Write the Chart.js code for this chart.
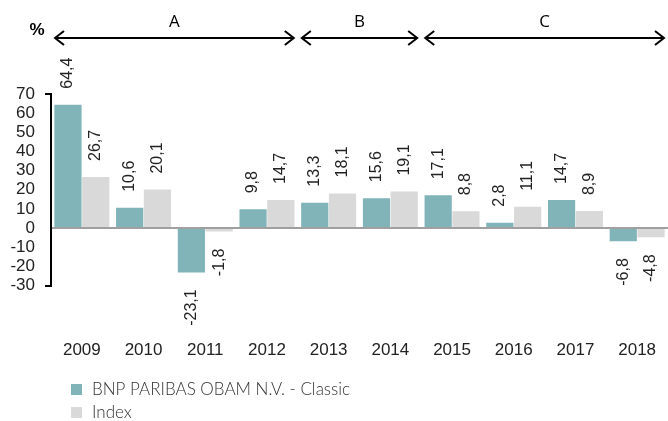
<!DOCTYPE html>
<html>
<head>
<meta charset="utf-8">
<script src="https://cdn.jsdelivr.net/npm/chart.js@4.4.0/dist/chart.umd.min.js"></script>
<style>
  html, body { margin: 0; padding: 0; background: #fff; overflow: hidden; }
  canvas { display: block; }
</style>
</head>
<body>
<canvas id="myGrafico" width="668" height="421"></canvas>
<script>
var anos = ["2009", "2010", "2011", "2012", "2013", "2014", "2015", "2016", "2017", "2018"];
var fundo = [64.4, 10.6, -23.1, 9.8, 13.3, 15.6, 17.1, 2.8, 14.7, -6.8];
var indice = [26.7, 20.1, -1.8, 14.7, 18.1, 19.1, 8.8, 11.1, 8.9, -4.8];
var periodos = ["A", "B", "C"];
var periodoInicio = [0, 4, 6];
var periodoFim = [3, 5, 9];

// rotated value labels, arrows on top, legend at bottom
var extras = {
    id: 'extras',
    afterDatasetsDraw: function(chart) {
        var ctx = chart.ctx;
        ctx.save();
        ctx.fillStyle = "#222";
        ctx.font = "16px 'Liberation Sans', Arial, sans-serif";
        ctx.textBaseline = "middle";
        chart.data.datasets.forEach(function(ds, di) {
            var meta = chart.getDatasetMeta(di);
            meta.data.forEach(function(bar, i) {
                var v = ds.data[i];
                var txt = v.toFixed(1).replace(".", ",");
                ctx.save();
                if (v >= 0) {
                    ctx.translate(bar.x, bar.y - 16);
                    ctx.rotate(-Math.PI / 2);
                    ctx.textAlign = "left";
                } else {
                    ctx.translate(bar.x, bar.y + 17);
                    ctx.rotate(-Math.PI / 2);
                    ctx.textAlign = "right";
                }
                ctx.fillText(txt, 0, 0);
                ctx.restore();
            });
        });
        ctx.restore();
    },
    afterDraw: function(chart) {
        var ctx = chart.ctx;
        var xs = chart.scales.x;
        var half = (xs.getPixelForValue(1) - xs.getPixelForValue(0)) / 2;
        ctx.save();
        // %
        ctx.fillStyle = "#000";
        ctx.font = "bold 17px 'Liberation Sans', Arial, sans-serif";
        ctx.textAlign = "center";
        ctx.textBaseline = "middle";
        ctx.fillText("%", 37, 30);
        var y = 38;
        ctx.strokeStyle = "#000";
        ctx.lineWidth = 2;
        for (var p = 0; p < periodos.length; p++) {
            var x1 = xs.getPixelForValue(periodoInicio[p]) - half + 4;
            var x2 = xs.getPixelForValue(periodoFim[p]) + half - 4;
            if (x2 > chart.width - 1) x2 = chart.width - 1;
            ctx.beginPath();
            ctx.moveTo(x1, y);
            ctx.lineTo(x2, y);
            ctx.stroke();
            ctx.beginPath();
            ctx.moveTo(x1 + 9, y - 7);
            ctx.lineTo(x1, y);
            ctx.lineTo(x1 + 9, y + 7);
            ctx.stroke();
            ctx.beginPath();
            ctx.moveTo(x2 - 9, y - 7);
            ctx.lineTo(x2, y);
            ctx.lineTo(x2 - 9, y + 7);
            ctx.stroke();
            ctx.font = "17px 'Open Sans', sans-serif";
            ctx.fillText(periodos[p], (x1 + x2) / 2, 22);
        }
        // legenda
        ctx.textAlign = "left";
        ctx.font = "300 17px Lato, sans-serif";
        chart.data.datasets.forEach(function(ds, di) {
            var ly = 389 + di * 23;
            ctx.fillStyle = ds.backgroundColor;
            ctx.fillRect(71, ly - 5, 11, 11);
            ctx.fillStyle = "#333";
            ctx.fillText(ds.label, 92, ly + 1);
        });
        ctx.restore();
    }
};

var ctx = document.getElementById('myGrafico').getContext('2d');
var chart = new Chart(ctx, {
    type: 'bar',
    data: {
        labels: anos,
        datasets: [{
            label: 'BNP PARIBAS OBAM N.V. - Classic',
            backgroundColor: "#80b4b9",
            data: fundo
        }, {
            label: 'Index',
            backgroundColor: "#d9d9d9",
            data: indice
        }]
    },
    options: {
        responsive: false,
        animation: false,
        layout: { padding: { top: 94, bottom: 60, left: 0, right: 0 } },
        plugins: { legend: { display: false }, tooltip: { enabled: false } },
        datasets: { bar: { categoryPercentage: 0.9, barPercentage: 0.98 } },
        scales: {
            x: {
                grid: { display: true, drawOnChartArea: false, tickLength: 55, tickColor: "rgba(0,0,0,0)" },
                border: { display: false },
                ticks: { padding: 0, maxRotation: 0, autoSkip: false, color: "#222", font: { size: 17, family: "'Liberation Sans', Arial, sans-serif" } }
            },
            y: {
                min: -30,
                max: 70,
                afterFit: function(s) { s.width = 51; },
                border: { color: "#000", width: 2 },
                grid: {
                    drawOnChartArea: true,
                    tickLength: 6,
                    color: function(c) { return c.tick && c.tick.value === 0 ? "#a0a0a0" : "rgba(0,0,0,0)"; },
                    lineWidth: 2,
                    tickColor: function(c) { return c.tick && (c.tick.value === 70 || c.tick.value === -30) ? "#000" : "rgba(0,0,0,0)"; }
                },
                ticks: { stepSize: 10, padding: 10, autoSkip: false, color: "#222", font: { size: 17, family: "'Liberation Sans', Arial, sans-serif" } }
            }
        }
    },
    plugins: [extras]
});
</script>
</body>
</html>
